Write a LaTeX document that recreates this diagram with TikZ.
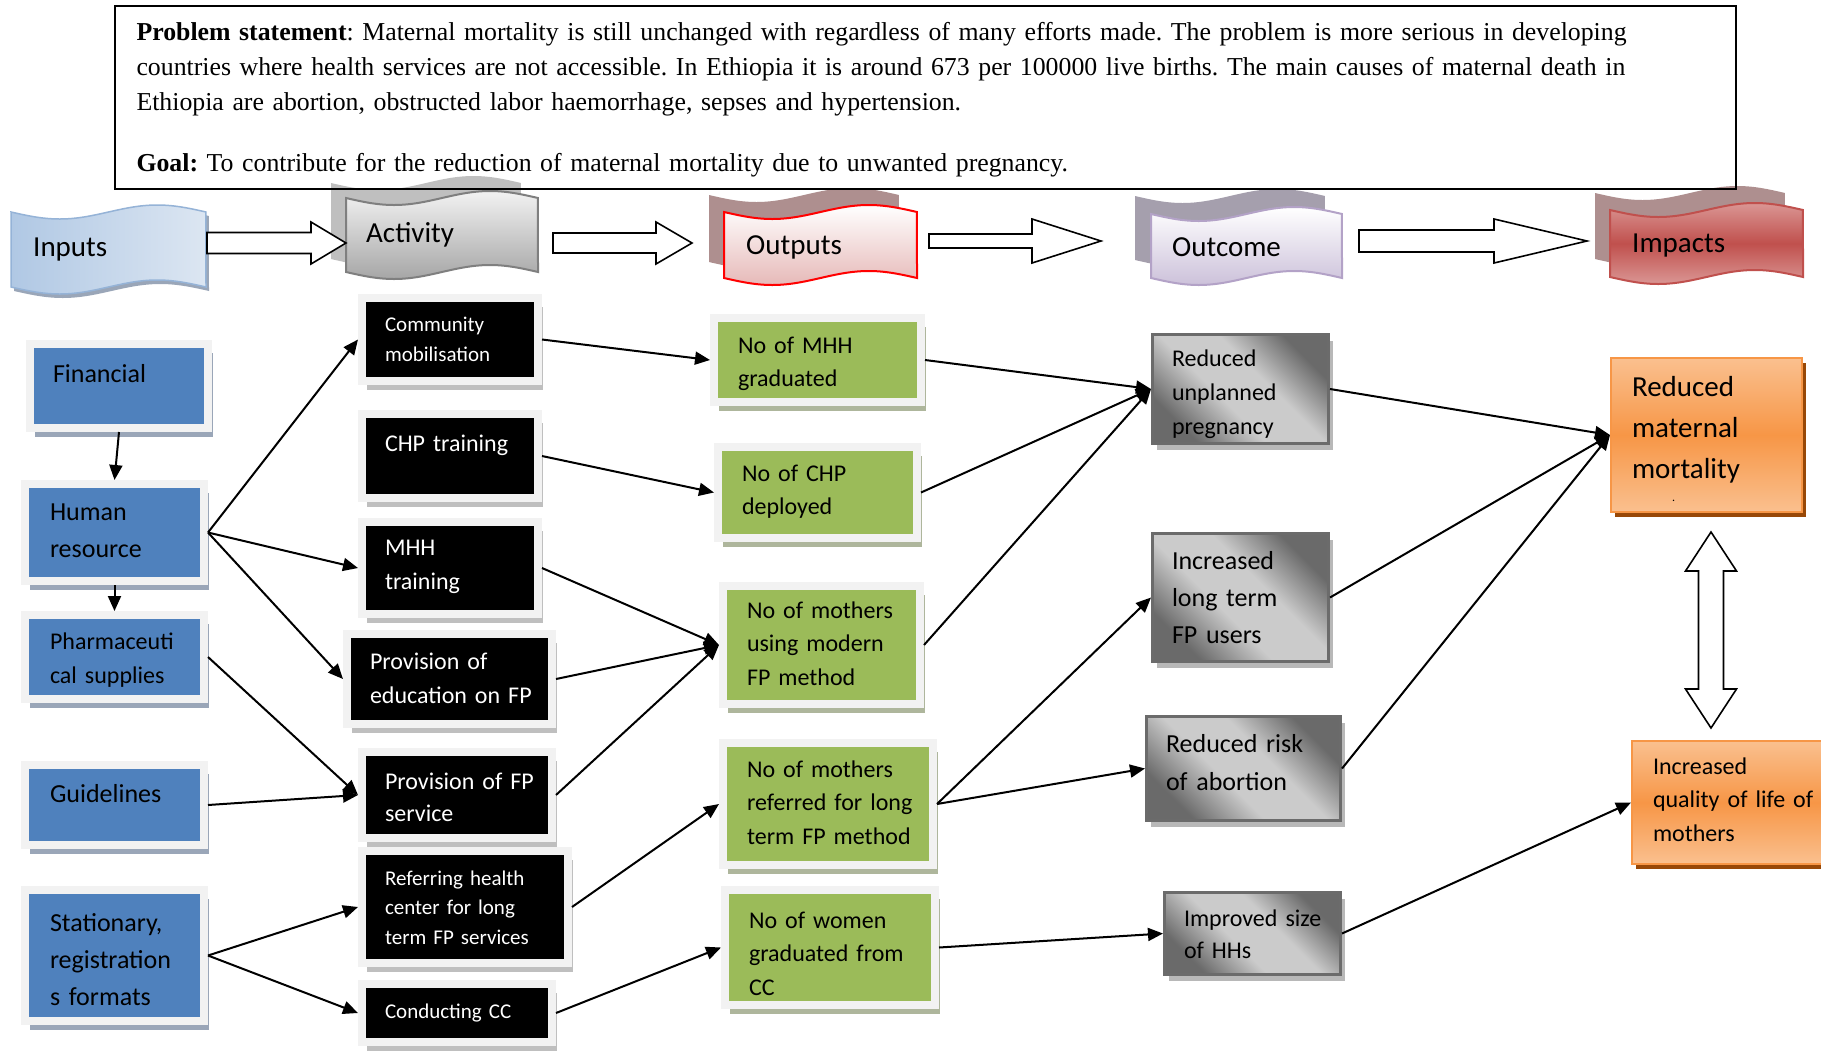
\documentclass[tikz,border=0pt]{standalone}
\usepackage{fontspec}
\setmainfont{Carlito}
\newfontfamily\tnr{Liberation Serif}
\usetikzlibrary{arrows.meta,shadows}

\definecolor{inblue}{HTML}{4F81BD}
\definecolor{inshadow}{HTML}{9AA6B8}
\definecolor{framegrey}{HTML}{F2F2F2}
\definecolor{outgreen}{HTML}{9BBB59}
\definecolor{greenshadow}{HTML}{AEB69C}
\definecolor{impmid}{HTML}{F79646}
\definecolor{implight}{HTML}{FAC08F}
\definecolor{impshadow}{HTML}{984807}
\definecolor{inlight}{HTML}{DCE6F2}
\definecolor{inmid}{HTML}{B0C8E4}
\definecolor{inedge}{HTML}{95B3D7}
\definecolor{actdark}{HTML}{A6A6A6}
\definecolor{actedge}{HTML}{7F7F7F}
\definecolor{actshadow}{HTML}{BFBFBF}
\definecolor{outpink}{HTML}{E6B9B8}
\definecolor{outshadow}{HTML}{AE8F8F}
\definecolor{lavender}{HTML}{CCC1DA}
\definecolor{lavedge}{HTML}{B3A2C7}
\definecolor{lavshadow}{HTML}{A59FAD}
\definecolor{impred}{HTML}{C0504D}
\definecolor{imppink}{HTML}{DA9694}
\definecolor{glight}{HTML}{CBCBCB}
\definecolor{gdark}{HTML}{6A6A6A}

\pgfdeclarehorizontalshading{greyband}{100bp}{color(0bp)=(gdark); color(26bp)=(gdark); color(43bp)=(glight); color(58bp)=(glight); color(74bp)=(gdark); color(100bp)=(gdark)}

% punched tape banner: x, y, width, height, options
\newcommand{\tape}[5]{%
  \path[#5] plot[domain=0:1, samples=37, smooth] ({#1+#3*\x}, {#2+7*sin(360*\x)})
    -- plot[domain=1:0, samples=37, smooth] ({#1+#3*\x}, {#2+#4+7*sin(360*\x)}) -- cycle;}
% hollow block arrow: x0, x1, y, shaft half, head half, head length
\newcommand{\harrow}[6]{%
  \draw[line width=1.6pt, fill=white] (#1,#3-#4) -- (#2-#6,#3-#4) -- (#2-#6,#3-#5) -- (#2,#3)
    -- (#2-#6,#3+#5) -- (#2-#6,#3+#4) -- (#1,#3+#4) -- cycle;}

\tikzset{
  frame/.style={inner sep=0pt, anchor=north west, draw=framegrey, line width=8pt},
  inbox/.style={frame, fill=inblue, font=\fontsize{26}{37}\selectfont,
    drop shadow={shadow xshift=5pt, shadow yshift=-9pt, fill=inshadow, opacity=1}},
  actbox/.style={frame, fill=black, text=white, font=\fontsize{24}{34}\selectfont,
    drop shadow={shadow xshift=5pt, shadow yshift=-9pt, fill=actshadow, opacity=1}},
  outbox/.style={frame, fill=outgreen, font=\fontsize{24}{33.5}\selectfont,
    drop shadow={shadow xshift=5pt, shadow yshift=-9pt, fill=greenshadow, opacity=1}},
  resbox/.style={inner sep=0pt, anchor=north west, draw=black!58, line width=3pt, shade,
    shading=greyband, shading angle=45, font=\fontsize{24}{34}\selectfont,
    drop shadow={shadow xshift=4pt, shadow yshift=-6pt, fill=black!28, opacity=1}},
  impbox/.style={inner sep=0pt, anchor=north west, draw=impmid, line width=2pt,
    top color=implight, bottom color=implight, middle color=impmid,
    font=\fontsize{24}{33.5}\selectfont,
    drop shadow={shadow xshift=4pt, shadow yshift=-5pt, fill=impshadow, opacity=1}},
  say/.style 2 args={path picture={\node[anchor=base west, inner sep=0pt, minimum width=0pt,
    minimum height=0pt, text width=1700pt, align=left]
    at ([shift={(#1)}]path picture bounding box.north west) {#2};}},
  bantext/.style={anchor=west, inner sep=0pt, font=\fontsize{29}{35}\selectfont},
  link/.style={-{Triangle[length=15pt, width=13pt]}, line width=2pt},
}

\begin{document}
\begin{tikzpicture}[x=1pt, y=-1pt]
\useasboundingbox[fill=white] (0,0) rectangle (1821,1053);

% banners
\tape{14}{216}{195}{75}{fill=inshadow}
\tape{11}{212}{195}{75}{left color=inmid, right color=inlight, draw=inedge, line width=1.5pt}
\tape{331}{183}{190}{76}{fill=actshadow}
\tape{346}{198}{192}{74}{top color=framegrey, bottom color=actdark, draw=actedge, line width=2pt}
\tape{709}{195}{190}{67}{fill=outshadow}
\tape{724}{212}{193}{66}{top color=white, bottom color=outpink, draw=red, line width=2pt}
\tape{1135}{196}{190}{64}{fill=lavshadow}
\tape{1151}{214}{191}{64}{top color=white, bottom color=lavender, draw=lavedge, line width=2pt}
\tape{1595}{193}{190}{66}{fill=outshadow}
\tape{1610}{210}{193}{67}{top color=imppink, bottom color=imppink, middle color=impred, draw=impred, line width=2pt}
\node[bantext] (inp) at (33,250) {Inputs};
\node[bantext] (act) at (366,235) {Activity};
\node[bantext] (outp) at (746,247) {Outputs};
\node[bantext] (outc) at (1172,247) {Outcome};
\node[bantext] (imp) at (1632,246) {Impacts};

\harrow{207}{346}{243}{10.5}{21}{35}
\harrow{553}{692}{243}{10}{21}{36}
\harrow{929}{1101}{241}{7}{22}{69}
\harrow{1359}{1587}{241}{11}{22}{93}
\draw[line width=1.6pt, fill=white] (1711,532) -- (1736.5,571) -- (1723.5,571) -- (1723.5,689)
  -- (1736.5,689) -- (1711,728) -- (1685.5,689) -- (1698.5,689) -- (1698.5,571) -- (1685.5,571) -- cycle;

% inputs
\node[inbox, minimum width=178, minimum height=84, say={19,38}{Financial}] (fin) at (26,340) {};
\node[inbox, minimum width=179, minimum height=97, say={21,36}{Human\\resource}] (hr) at (21,480) {};
\node[inbox, minimum width=179, minimum height=84, font=\fontsize{24}{34}\selectfont,
  say={21,34}{Pharmaceuti\\cal supplies}] (ph) at (21,611) {};
\node[inbox, minimum width=179, minimum height=80, say={21,37}{Guidelines}] (gd) at (21,761) {};
\node[inbox, minimum width=179, minimum height=131, say={21,41}{Stationary,\\registration\\s formats}] (st) at (21,886) {};

% activities
\node[actbox, minimum width=176, minimum height=83, font=\fontsize{21}{30}\selectfont,
  say={19,33}{Community\\mobilisation}] (cm) at (358,294) {};
\node[actbox, minimum width=176, minimum height=84, say={19,37}{CHP training}] (chp) at (358,410) {};
\node[actbox, minimum width=176, minimum height=92, say={19,33}{MHH\\training}] (mhh) at (358,518) {};
\node[actbox, minimum width=205, minimum height=90, say={19,35}{Provision of\\education on FP}] (edu) at (343,630) {};
\node[actbox, minimum width=190, minimum height=86, font=\fontsize{24}{32}\selectfont,
  say={19,37}{Provision of FP\\service}] (fps) at (358,748) {};
\node[actbox, minimum width=206, minimum height=112, font=\fontsize{21}{29.5}\selectfont,
  say={19,34}{Referring health\\center for long\\term FP services}] (ref) at (358,847) {};
\node[actbox, minimum width=190, minimum height=58, font=\fontsize{21}{29.5}\selectfont,
  say={19,34}{Conducting CC}] (cc) at (358,980) {};

% outputs
\node[outbox, minimum width=207, minimum height=84, say={20,35}{No of MHH\\graduated}] (mhhg) at (710,314) {};
\node[outbox, minimum width=199, minimum height=91, say={20,34}{No of CHP\\deployed}] (chpd) at (714,443) {};
\node[outbox, minimum width=197, minimum height=118, say={20,32}{No of mothers\\using modern\\FP method}] (use) at (719,582) {};
\node[outbox, minimum width=210, minimum height=122, say={20,34}{No of mothers\\referred for long\\term FP method}] (refd) at (719,739) {};
\node[outbox, minimum width=210, minimum height=115, say={20,38}{No of women\\graduated from\\CC}] (wom) at (721,886) {};

% outcomes
\node[resbox, minimum width=176, minimum height=109, say={18,31.5}{Reduced\\unplanned\\pregnancy}] (run) at (1151,333) {};
\node[resbox, minimum width=176, minimum height=128, font=\fontsize{26}{37}\selectfont,
  say={18,35.5}{Increased\\long term\\FP users}] (ilt) at (1151,532) {};
\node[resbox, minimum width=194, minimum height=104, font=\fontsize{26}{38}\selectfont,
  say={18,35.5}{Reduced risk\\of abortion}] (rra) at (1145,715) {};
\node[resbox, minimum width=176, minimum height=82, font=\fontsize{24}{32}\selectfont,
  say={18,33.5}{Improved size\\of HHs}] (ihh) at (1163,891) {};

% impacts
\node[impbox, minimum width=191, minimum height=154, font=\fontsize{29}{41}\selectfont,
  say={20,38}{Reduced\\maternal\\mortality\\[-18pt]\hspace*{40pt}{\fontsize{12}{12}\selectfont .}}] (rmm) at (1610,357) {};
\node[impbox, minimum width=195, minimum height=123, say={20,33}{Increased\\quality of life of\\mothers}] (iql) at (1631,740) {};

% links
\draw[link] (fin.south) -- (hr.north);
\draw[link] (hr.south) -- (ph.north);
\draw[link] (hr.east) -- (cm.west);
\draw[link] (hr.east) -- (mhh.west);
\draw[link] (hr.east) -- (edu.west);
\draw[link] (ph.east) -- (fps.west);
\draw[link] (gd.east) -- (fps.west);
\draw[link] (st.east) -- (ref.west);
\draw[link] (st.east) -- (cc.west);
\draw[link] (cm.east) -- (mhhg.west);
\draw[link] (chp.east) -- (chpd.west);
\draw[link] (mhh.east) -- (use.west);
\draw[link] (edu.east) -- (use.west);
\draw[link] (fps.east) -- (use.west);
\draw[link] (ref.east) -- (refd.west);
\draw[link] (cc.east) -- (wom.west);
\draw[link] (mhhg.east) -- (run.west);
\draw[link] (chpd.east) -- (run.west);
\draw[link] (use.east) -- (run.west);
\draw[link] (refd.east) -- (ilt.west);
\draw[link] (refd.east) -- (rra.west);
\draw[link] (wom.east) -- (ihh.west);
\draw[link] (run.east) -- (rmm.west);
\draw[link] (ilt.east) -- (rmm.west);
\draw[link] (rra.east) -- (rmm.west);
\draw[link] (ihh.east) -- (iql.west);

% problem statement
\node[draw, line width=1.5pt, inner sep=0pt, anchor=north west, minimum width=1621, minimum height=183,
  font=\tnr\fontsize{25.8}{35}\selectfont,
  say={21,34.5}{\frenchspacing\textbf{Problem statement}: Maternal mortality is still unchanged with regardless of many efforts made. The problem is more serious in developing\\
  countries where health services are not accessible. In Ethiopia it is around 673 per 100000 live births. The main causes of maternal death in\\
  Ethiopia are abortion, obstructed labor haemorrhage, sepses and hypertension.\\[26pt]
  \textbf{Goal:} To contribute for the reduction of maternal mortality due to unwanted pregnancy.}] (prob) at (114,5) {};
\end{tikzpicture}
\end{document}
